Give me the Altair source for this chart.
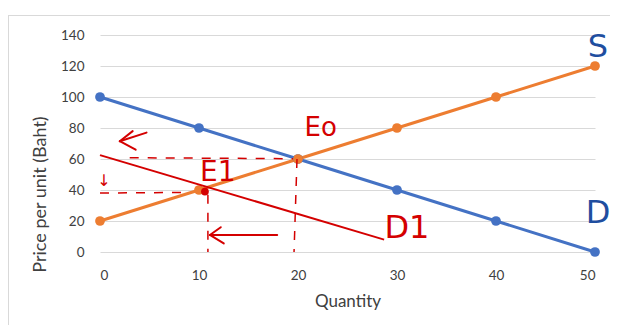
import altair as alt
import pandas as pd

# ---- data ----
quantity = [0, 10, 20, 30, 40, 50]
demand = [100, 80, 60, 40, 20, 0]
supply = [20, 40, 60, 80, 100, 120]
price_ticks = [0, 20, 40, 60, 80, 100, 120, 140]

# hand-drawn shifted demand line D1 (endpoints)
d1_q = [0, 28.7]
d1_p = [62.5, 8]

# hand-drawn dashed guides: (q1, p1, q2, p2)
dash_q1 = [3.0, 0.0, 10.9, 19.9]
dash_p1 = [60.8, 38.0, 37.0, 60.0]
dash_q2 = [19.5, 9.0, 10.9, 19.6]
dash_p2 = [60.2, 38.5, 0.0, 0.0]

# hand-drawn arrows (solid strokes)
arrow_q1 = [17.9, 11.1, 11.1, 4.7, 2.0, 2.0]
arrow_p1 = [11.0, 11.0, 11.0, 77.0, 71.5, 71.5]
arrow_q2 = [11.1, 12.2, 12.5, 2.0, 3.3, 3.6]
arrow_p2 = [11.0, 16.0, 5.5, 71.5, 78.0, 66.0]

# handwritten labels
red_text = ["Eo", "E1", "D1", "↓"]
red_text_q = [22.3, 11.9, 31.0, 0.4]
red_text_p = [80.0, 51.0, 15.5, 46.0]
red_text_size = [26, 28, 32, 16]

blue_text = ["S", "D"]
blue_text_q = [50.3, 50.3]
blue_text_p = [132.0, 25.0]

dot_q = [10.6]
dot_p = [39.0]

RED = "#d40000"
BLUE_INK = "#1f4e9f"

df = pd.DataFrame({"q": quantity * 2,
                   "p": demand + supply,
                   "series": ["D"] * 6 + ["S"] * 6})
d1 = pd.DataFrame({"q": d1_q, "p": d1_p})
dash = pd.DataFrame({"q": dash_q1, "p": dash_p1, "q2": dash_q2, "p2": dash_p2})
arrows = pd.DataFrame({"q": arrow_q1, "p": arrow_p1, "q2": arrow_q2, "p2": arrow_p2})
rtext = pd.DataFrame({"t": red_text, "q": red_text_q, "p": red_text_p, "s": red_text_size})
btext = pd.DataFrame({"t": blue_text, "q": blue_text_q, "p": blue_text_p})
dot = pd.DataFrame({"q": dot_q, "p": dot_p})

FONT = "Lato"
GREY = "#404040"

xs = alt.Scale(domain=[quantity[0], quantity[-1]], nice=False, zero=False)
ys = alt.Scale(domain=[price_ticks[0], price_ticks[-1]], nice=False)

x_axis = alt.Axis(values=quantity, grid=False, domain=False, ticks=False,
                  labelPadding=16, labelFontSize=13.5, labelColor=GREY,
                  labelFont=FONT, labelOverlap=False,
                  titleFont=FONT, titleFontSize=17, titleFontWeight="normal",
                  titleColor=GREY, titleY=49, titleBaseline="middle")
y_axis = alt.Axis(values=price_ticks, grid=True,
                  gridColor="#d9d9d9", gridWidth=1, domain=False, ticks=False,
                  labelPadding=16, labelFontSize=13.5, labelColor=GREY,
                  labelFont=FONT, labelOverlap=False,
                  titleFont=FONT, titleFontSize=18, titleFontWeight="normal",
                  titleColor=GREY, titleX=-60, titleY=159, titleAlign="center",
                  titleBaseline="middle")

X = alt.X("q:Q", scale=xs, title="Quantity", axis=x_axis)
Y = alt.Y("p:Q", scale=ys, title="Price per unit (Baht)", axis=y_axis)

color = alt.Color("series:N", scale=alt.Scale(domain=["D", "S"],
                                              range=["#4472c4", "#ed7d31"]),
                  legend=None)

lines = alt.Chart(df).mark_line(strokeWidth=3).encode(
    x=X, y=Y, color=color, detail="series:N")
points = alt.Chart(df).mark_circle(size=95, opacity=1).encode(
    x=X, y=Y, color=color)

# chart border (decoration, Excel chart-area frame)
frame = pd.DataFrame({"k": [0, 1]})
frame_left = alt.Chart(frame).transform_filter("datum.k == 0").mark_rule(
    color="#d9d9d9", strokeWidth=1).encode(
    x=alt.value(-91.5), y=alt.value(-20), y2=alt.value(290))
frame_top = alt.Chart(frame).transform_filter("datum.k == 1").mark_rule(
    color="#d9d9d9", strokeWidth=1).encode(
    x=alt.value(-91.5), x2=alt.value(530), y=alt.value(-19.5))

d1_line = alt.Chart(d1).mark_line(color=RED, strokeWidth=2).encode(x=X, y=Y)

dash_rules = alt.Chart(dash).mark_rule(color=RED, strokeWidth=1.5,
                                       strokeDash=[9, 9]).encode(
    x=X, y=Y, x2="q2:Q", y2="p2:Q")

arrow_rules = alt.Chart(arrows).mark_rule(color=RED, strokeWidth=2,
                                          strokeCap="round").encode(
    x=X, y=Y, x2="q2:Q", y2="p2:Q")

dot_mark = alt.Chart(dot).mark_circle(size=60, color=RED, opacity=1).encode(
    x=X, y=Y)

rlabels = alt.Chart(rtext).mark_text(color=RED, font="DejaVu Sans",
                                     fontWeight="normal").encode(
    x=X, y=Y, text="t:N", size=alt.Size("s:Q", scale=None, legend=None))

blabels = alt.Chart(btext).mark_text(color=BLUE_INK, font="DejaVu Sans",
                                     fontSize=32).encode(
    x=X, y=Y, text="t:N")

chart = alt.layer(lines, points, frame_left, frame_top, d1_line, dash_rules,
                  arrow_rules, dot_mark, rlabels, blabels).properties(
    width=495, height=217,
    autosize=alt.AutoSizeParams(type="none"),
    padding={"left": 92, "top": 27, "right": 15, "bottom": 75},
    background="white",
).configure_view(stroke=None)

chart.save("out.html", embed_options={"renderer": "svg", "actions": False})
